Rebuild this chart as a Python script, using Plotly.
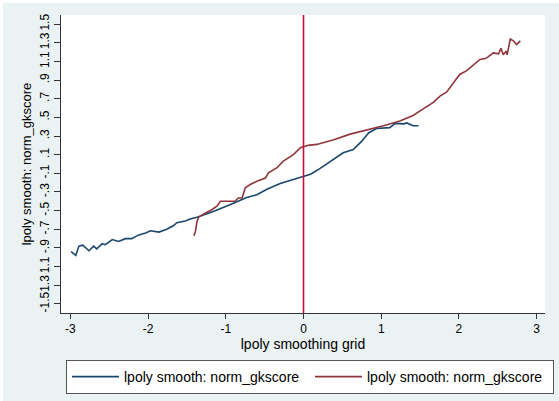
import plotly.graph_objects as go

# ---- data ----
blue_x = [-2.99, -2.93, -2.89, -2.84, -2.76, -2.70, -2.66, -2.59, -2.55, -2.46, -2.38, -2.29,
          -2.21, -2.12, -2.03, -1.97, -1.86, -1.76, -1.67, -1.63, -1.52, -1.46, -1.37, -1.16,
          -0.94, -0.73, -0.60, -0.47, -0.30, -0.13, 0.01, 0.09, 0.21, 0.39, 0.51, 0.64, 0.75,
          0.84, 0.94, 1.11, 1.18, 1.29, 1.33, 1.41, 1.48]
blue_y = [-0.94, -0.98, -0.88, -0.87, -0.93, -0.88, -0.91, -0.855, -0.865, -0.81, -0.83, -0.80,
          -0.80, -0.76, -0.74, -0.715, -0.73, -0.70, -0.66, -0.63, -0.61, -0.59, -0.57, -0.51,
          -0.435, -0.36, -0.33, -0.27, -0.21, -0.17, -0.13, -0.11, -0.05, 0.05, 0.12, 0.155, 0.245,
          0.335, 0.38, 0.39, 0.435, 0.43, 0.44, 0.41, 0.41]

red_x = [-1.41, -1.39, -1.37, -1.35, -1.26, -1.18, -1.11, -1.07, -0.98, -0.88, -0.84, -0.79,
         -0.75, -0.685, -0.60, -0.49, -0.45, -0.34, -0.26, -0.13, -0.04, 0.06, 0.17, 0.39, 0.60,
         0.81, 1.03, 1.24, 1.41, 1.50, 1.59, 1.67, 1.76, 1.84, 1.93, 2.01, 2.10, 2.19, 2.27, 2.34,
         2.38, 2.44, 2.51, 2.54, 2.57, 2.61, 2.62, 2.66, 2.70, 2.74, 2.79]
red_y = [-0.77, -0.72, -0.615, -0.57, -0.525, -0.49, -0.45, -0.40, -0.40, -0.40, -0.365, -0.365,
         -0.255, -0.22, -0.185, -0.15, -0.095, -0.04, 0.03, 0.10, 0.175, 0.20, 0.21, 0.26, 0.32,
         0.36, 0.41, 0.46, 0.52, 0.57, 0.62, 0.66, 0.73, 0.77, 0.87, 0.96, 1.00, 1.06, 1.12, 1.13,
         1.15, 1.19, 1.18, 1.24, 1.17, 1.21, 1.17, 1.34, 1.32, 1.28, 1.32]

x_ticks = [-3, -2, -1, 0, 1, 2, 3]
y_ticks = [-1.5, -1.3, -1.1, -0.9, -0.7, -0.5, -0.3, -0.1, 0.1, 0.3, 0.5, 0.7, 0.9, 1.1, 1.3, 1.5]
y_ticktext = ["-1.5", "1.3", "1.1", "-.9", "-.7", "-.5", "-.3", "-.1",
              ".1", ".3", ".5", ".7", ".9", "1.1", "1.3", "1.5"]
series_name = "lpoly smooth: norm_gkscore"
vline_x = 0

FONT = "Liberation Sans, Arial, sans-serif"
BG = "#EAF2F3"

fig = go.Figure()
fig.add_trace(go.Scatter(x=blue_x, y=blue_y, mode="lines", name=series_name,
                         line=dict(color="#1a476f", width=1.6)))
fig.add_trace(go.Scatter(x=red_x, y=red_y, mode="lines", name=series_name,
                         line=dict(color="#90353b", width=1.6)))

fig.add_vline(x=vline_x, line=dict(color="#c8103a", width=1.6), layer="above")

# thin white edge on left/top of the outer region
fig.add_shape(type="rect", xref="paper", yref="paper",
              x0=(-5 - 61) / 484, x1=(3 - 61) / 484, y0=(313 - 410) / 298, y1=(313 + 5) / 298,
              fillcolor="white", line=dict(width=0), layer="below")
fig.add_shape(type="rect", xref="paper", yref="paper",
              x0=(-5 - 61) / 484, x1=(570 - 61) / 484, y0=(313 - 3) / 298, y1=(313 + 5) / 298,
              fillcolor="white", line=dict(width=0), layer="below")

fig.update_layout(
    width=559, height=401,
    margin=dict(l=61, r=14, t=15, b=88, autoexpand=False),
    paper_bgcolor=BG,
    plot_bgcolor="white",
    font=dict(family=FONT, size=12, color="#000000"),
    showlegend=True,
    legend=dict(orientation="h", xref="container", yref="container",
                x=66 / 559, xanchor="left",
                y=1 - 360 / 401, yanchor="top",
                bgcolor="white", bordercolor="#555555", borderwidth=1,
                font=dict(size=14), itemwidth=47,
                entrywidth=181, entrywidthmode="pixels", tracegroupgap=0),
    xaxis=dict(range=[-3.12, 3.107], tickvals=x_ticks, ticktext=[str(v) for v in x_ticks],
               showgrid=False, zeroline=False, showline=True, linecolor="#333333", linewidth=1,
               ticks="outside", ticklen=5, tickcolor="#333333",
               tickfont=dict(size=12),
               title=dict(text="lpoly smoothing grid", font=dict(size=14), standoff=2)),
    yaxis=dict(range=[-1.597, 1.597], tickvals=y_ticks, ticktext=y_ticktext,
               tickangle=-90,
               showgrid=False, zeroline=False, showline=True, linecolor="#333333", linewidth=1,
               ticks="outside", ticklen=6, tickcolor="#333333",
               tickfont=dict(size=12),
               title=dict(text=series_name, font=dict(size=13), standoff=3)),
)

fig.write_html("out.html")
